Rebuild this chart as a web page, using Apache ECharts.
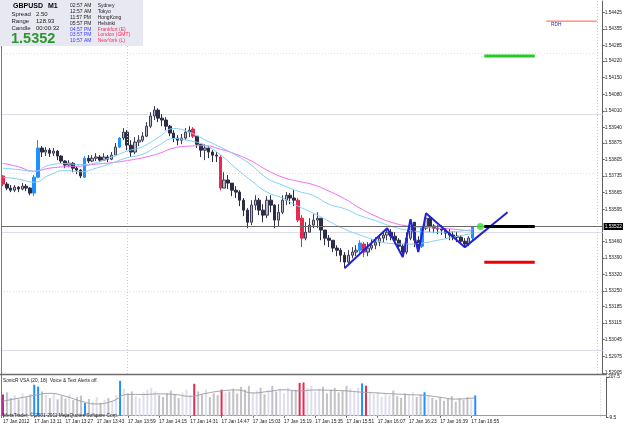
<!DOCTYPE html>
<html>
<head>
<meta charset="utf-8">
<script src="https://cdn.jsdelivr.net/npm/echarts@6/dist/echarts.min.js"></script>
<style>
html, body { margin: 0; padding: 0; background: #fff; }
#chart { width: 625px; height: 429px; }
</style>
</head>
<body>
<div id="chart"></div>
<script>
"use strict";
// GBPUSD M1, 17 Jan 2012 12:55 - 16:57 in 2-minute groups
const opens = [
    1.53735, 1.53701, 1.53684, 1.53675, 1.53688, 1.53680, 1.53692, 1.53684, 1.53663, 1.53730,
    1.53853, 1.53836, 1.53844, 1.53831, 1.53840, 1.53819, 1.53798, 1.53781, 1.53789, 1.53768,
    1.53760, 1.53730, 1.53810, 1.53798, 1.53810, 1.53815, 1.53802, 1.53815, 1.53806, 1.53823,
    1.53857, 1.53895, 1.53920, 1.53865, 1.53836, 1.53878, 1.53886, 1.53903, 1.53945, 1.53988,
    1.54013, 1.53979, 1.53971, 1.53945, 1.53916, 1.53895, 1.53886, 1.53895, 1.53920, 1.53933,
    1.53903, 1.53869, 1.53844, 1.53853, 1.53836, 1.53823, 1.53815, 1.53684, 1.53718, 1.53705,
    1.53675, 1.53667, 1.53633, 1.53591, 1.53540, 1.53612, 1.53633, 1.53591, 1.53570, 1.53633,
    1.53612, 1.53549, 1.53582, 1.53633, 1.53654, 1.53642, 1.53633, 1.53557, 1.53473, 1.53498,
    1.53528, 1.53549, 1.53557, 1.53507, 1.53473, 1.53464, 1.53431, 1.53422, 1.53401, 1.53372,
    1.53401, 1.53414, 1.53422, 1.53448, 1.53414, 1.53431, 1.53443, 1.53456, 1.53473, 1.53486,
    1.53498, 1.53481, 1.53464, 1.53439, 1.53414, 1.53473, 1.53540, 1.53464, 1.53439, 1.53515,
    1.53557, 1.53524, 1.53515, 1.53511, 1.53507, 1.53494, 1.53486, 1.53481, 1.53477, 1.53460,
    1.53448, 1.53473
];
const closes = [
    1.53701, 1.53684, 1.53675, 1.53688, 1.53680, 1.53692, 1.53684, 1.53663, 1.53730, 1.53853,
    1.53836, 1.53844, 1.53831, 1.53840, 1.53819, 1.53798, 1.53781, 1.53789, 1.53768, 1.53760,
    1.53735, 1.53810, 1.53798, 1.53810, 1.53815, 1.53802, 1.53815, 1.53806, 1.53823, 1.53857,
    1.53895, 1.53920, 1.53865, 1.53836, 1.53878, 1.53886, 1.53903, 1.53945, 1.53988, 1.54013,
    1.53979, 1.53971, 1.53945, 1.53916, 1.53895, 1.53886, 1.53895, 1.53920, 1.53928, 1.53903,
    1.53869, 1.53844, 1.53853, 1.53836, 1.53823, 1.53819, 1.53684, 1.53718, 1.53705, 1.53675,
    1.53667, 1.53633, 1.53591, 1.53540, 1.53612, 1.53633, 1.53591, 1.53570, 1.53633, 1.53612,
    1.53549, 1.53582, 1.53633, 1.53654, 1.53642, 1.53633, 1.53549, 1.53473, 1.53498, 1.53528,
    1.53549, 1.53557, 1.53507, 1.53473, 1.53464, 1.53431, 1.53422, 1.53401, 1.53372, 1.53401,
    1.53414, 1.53422, 1.53452, 1.53414, 1.53431, 1.53443, 1.53456, 1.53473, 1.53486, 1.53498,
    1.53481, 1.53464, 1.53439, 1.53414, 1.53473, 1.53540, 1.53464, 1.53439, 1.53515, 1.53557,
    1.53524, 1.53515, 1.53511, 1.53507, 1.53494, 1.53486, 1.53481, 1.53477, 1.53460, 1.53448,
    1.53473, 1.53522
];
const lows = [
    1.53692, 1.53675, 1.53667, 1.53667, 1.53667, 1.53675, 1.53671, 1.53654, 1.53650, 1.53726,
    1.53815, 1.53819, 1.53815, 1.53819, 1.53802, 1.53789, 1.53768, 1.53772, 1.53751, 1.53743,
    1.53726, 1.53726, 1.53789, 1.53794, 1.53798, 1.53794, 1.53798, 1.53794, 1.53802, 1.53819,
    1.53853, 1.53886, 1.53844, 1.53815, 1.53827, 1.53861, 1.53878, 1.53899, 1.53937, 1.53971,
    1.53962, 1.53945, 1.53928, 1.53903, 1.53878, 1.53865, 1.53869, 1.53886, 1.53899, 1.53895,
    1.53853, 1.53815, 1.53802, 1.53810, 1.53794, 1.53794, 1.53675, 1.53684, 1.53680, 1.53650,
    1.53642, 1.53608, 1.53566, 1.53515, 1.53528, 1.53591, 1.53570, 1.53540, 1.53557, 1.53582,
    1.53515, 1.53524, 1.53574, 1.53612, 1.53616, 1.53608, 1.53540, 1.53435, 1.53464, 1.53498,
    1.53515, 1.53515, 1.53464, 1.53443, 1.53435, 1.53414, 1.53397, 1.53372, 1.53346, 1.53363,
    1.53388, 1.53397, 1.53410, 1.53393, 1.53397, 1.53422, 1.53426, 1.53439, 1.53456, 1.53464,
    1.53464, 1.53448, 1.53422, 1.53393, 1.53405, 1.53464, 1.53435, 1.53414, 1.53431, 1.53507,
    1.53498, 1.53494, 1.53490, 1.53486, 1.53473, 1.53464, 1.53464, 1.53456, 1.53448, 1.53435,
    1.53439, 1.53464
];
const highs = [
    1.53739, 1.53709, 1.53697, 1.53697, 1.53692, 1.53705, 1.53701, 1.53688, 1.53739, 1.53886,
    1.53861, 1.53857, 1.53853, 1.53853, 1.53844, 1.53823, 1.53802, 1.53802, 1.53794, 1.53777,
    1.53764, 1.53819, 1.53823, 1.53823, 1.53831, 1.53823, 1.53831, 1.53823, 1.53836, 1.53874,
    1.53899, 1.53937, 1.53928, 1.53886, 1.53899, 1.53907, 1.53920, 1.53962, 1.54004, 1.54030,
    1.54021, 1.53996, 1.53983, 1.53950, 1.53928, 1.53907, 1.53912, 1.53937, 1.53945, 1.53941,
    1.53903, 1.53869, 1.53869, 1.53861, 1.53844, 1.53836, 1.53823, 1.53751, 1.53739, 1.53705,
    1.53692, 1.53675, 1.53642, 1.53599, 1.53633, 1.53654, 1.53642, 1.53616, 1.53650, 1.53654,
    1.53616, 1.53616, 1.53654, 1.53667, 1.53663, 1.53675, 1.53642, 1.53570, 1.53540, 1.53557,
    1.53574, 1.53582, 1.53557, 1.53507, 1.53486, 1.53464, 1.53443, 1.53431, 1.53414, 1.53422,
    1.53435, 1.53443, 1.53464, 1.53456, 1.53456, 1.53469, 1.53477, 1.53490, 1.53503, 1.53515,
    1.53511, 1.53498, 1.53473, 1.53448, 1.53498, 1.53553, 1.53540, 1.53481, 1.53524, 1.53578,
    1.53566, 1.53532, 1.53528, 1.53528, 1.53515, 1.53511, 1.53503, 1.53498, 1.53486, 1.53473,
    1.53481, 1.53524
];
const volumes = [
    114, 125, 95, 110, 88, 120, 100, 115, 166, 156,
    130, 110, 95, 120, 88, 105, 92, 115, 84, 100,
    108, 68, 90, 75, 100, 70, 85, 95, 78, 110,
    187, 145, 120, 130, 105, 95, 125, 140, 150, 130,
    110, 100, 120, 135, 115, 95, 125, 140, 110, 171,
    130, 115, 140, 100, 120, 110, 140, 125, 130, 145,
    120, 155, 140, 160, 125, 135, 150, 115, 140, 160,
    130, 145, 120, 150, 135, 140, 176, 178, 150, 160,
    130, 145, 155, 120, 140, 150, 125, 135, 160, 145,
    130, 150, 173, 161, 130, 115, 125, 100, 120, 110,
    135, 105, 95, 120, 110, 125, 100, 115, 126, 110,
    95, 85, 100, 80, 90, 105, 75, 95, 85, 100,
    90, 109
];
// VSA highlighted bars
const upClimax = [8, 9, 21, 30, 92, 108, 121];
const downClimax = [0, 49, 56, 76, 77, 93];
const churnBars = [0];

// moving averages read every 4 bars
const maIdx = [0, 4, 8, 12, 16, 20, 24, 28, 32, 36, 40, 44, 48, 52, 56, 60,
    64, 68, 72, 76, 80, 84, 88, 92, 96, 100, 104, 108, 112, 116, 120, 121];
const maPink = [
    1.53789, 1.53774, 1.53755, 1.53768, 1.53774, 1.53777, 1.53785, 1.53791, 1.53800, 1.53812,
    1.53829, 1.53853, 1.53861, 1.53863, 1.53848, 1.53827, 1.53798, 1.53760, 1.53730, 1.53713,
    1.53698, 1.53671, 1.53639, 1.53599, 1.53566, 1.53540, 1.53525, 1.53519, 1.53515, 1.53511,
    1.53504, 1.53502
];
const maBlueUpper = [
    1.53768, 1.53762, 1.53755, 1.53781, 1.53787, 1.53783, 1.53791, 1.53815, 1.53840, 1.53859,
    1.53897, 1.53935, 1.53920, 1.53888, 1.53857, 1.53823, 1.53781, 1.53726, 1.53697, 1.53671,
    1.53652, 1.53616, 1.53597, 1.53568, 1.53547, 1.53523, 1.53507, 1.53500, 1.53498, 1.53500,
    1.53507, 1.53509
];
const maBlueLower = [
    1.53730, 1.53722, 1.53709, 1.53739, 1.53758, 1.53753, 1.53768, 1.53789, 1.53812, 1.53827,
    1.53863, 1.53893, 1.53884, 1.53865, 1.53825, 1.53768, 1.53715, 1.53667, 1.53642, 1.53608,
    1.53578, 1.53544, 1.53511, 1.53486, 1.53464, 1.53450, 1.53448, 1.53452, 1.53464, 1.53477,
    1.53490, 1.53494
];
const volMa = [
    78, 94, 109, 120, 104, 78, 63, 78, 114, 114, 117, 114, 104, 120, 133, 138,
    122, 130, 139, 133, 138, 136, 133, 126, 122, 117, 113, 109, 99, 89, 94, 96
];

// zigzag pivots (bar index, price)
const zigIdx = [88, 99, 103, 105, 107, 109, 119, 130];
const zigVal = [1.53346, 1.53515, 1.53393, 1.53553, 1.53414, 1.53578, 1.53435, 1.53582];

// trade levels
const levelSpan = [124, 137];
const tpLevel = 1.54241;
const entryLevel = 1.53522;
const slLevel = 1.53371;
const entryDot = 123;
const rdhSpan = [140, 153];
const rdhLevel = 1.54388;
const bidPrice = 1.53522;

const pinkGuides = [1.54254, 1.53748, 1.53250];
const greyGuides = [1.53996, 1.53499, 1.53001];
const vGuides = [32, 153];

const priceTicks = [1.54425, 1.54355, 1.54285, 1.54220, 1.54150, 1.54080, 1.54010, 1.53940,
    1.53875, 1.53805, 1.53735, 1.53665, 1.53595, 1.53460, 1.53390, 1.53320, 1.53250,
    1.53185, 1.53115, 1.53045, 1.52975, 1.52905];
const timeLabels = ["17 Jan 2012", "17 Jan 13:11", "17 Jan 13:27", "17 Jan 13:43", "17 Jan 13:59",
    "17 Jan 14:15", "17 Jan 14:31", "17 Jan 14:47", "17 Jan 15:03", "17 Jan 15:19", "17 Jan 15:35",
    "17 Jan 15:51", "17 Jan 16:07", "17 Jan 16:23", "17 Jan 16:39", "17 Jan 16:55"];

const clockTimes = ["02:57 AM", "12:57 AM", "11:57 PM", "05:57 PM", "04:57 PM", "03:57 PM", "10:57 AM"];
const clockCities = ["Sydney", "Tokyo", "HongKong", "Helsinki", "Frankfurt (E)", "London (GMT)", "NewYork (L)"];

(() => {
    const chart = echarts.init(document.getElementById("chart"));
    const slotCount = 155;
    const slots = Array.from({ length: slotCount }, (_, i) => String(i));
    const font = "Liberation Sans";
    const small = 4.8;

    const climaxColor = (i) => {
        if (upClimax.includes(i)) {
            return "#1e90ff";
        }
        if (downClimax.includes(i)) {
            return "#e8294f";
        }
        return null;
    };
    const candleData = opens.map((o, i) => {
        const item = { value: [o, closes[i], lows[i], highs[i]] };
        const c = climaxColor(i);
        if (c) {
            item.itemStyle = { color: c, color0: c, borderColor: c, borderColor0: c };
        }
        return item;
    });
    const volumeData = volumes.map((v, i) => {
        let color = closes[i] >= opens[i] ? "#dedeee" : "#c2c2c6";
        if (churnBars.includes(i)) {
            color = "#b0308c";
        }
        else if (climaxColor(i)) {
            color = climaxColor(i);
        }
        return { value: v, itemStyle: { color } };
    });
    const pairs = (idx, vals) => idx.map((k, j) => [k, vals[j]]);
    const flat = (span, v) => span.map((k) => [k, v]);
    const isLabelSlot = (index) => index % 8 === 0 && index / 8 < timeLabels.length;

    const hGuides = [
        ...pinkGuides.map((v) => ({ yAxis: v, lineStyle: { color: "#f6d8cc", type: [1, 2], width: 1 } })),
        ...greyGuides.map((v) => ({ yAxis: v, lineStyle: { color: "#dcdcea", type: "solid", width: 1 } }))
    ];
    const bidLine = [{
        yAxis: bidPrice,
        lineStyle: { color: "#6a6a6a", type: "solid", width: 1 },
        label: {
            show: true, position: "end", formatter: bidPrice.toFixed(5), distance: 1,
            color: "#fff", backgroundColor: "#000", fontSize: small, fontFamily: font, padding: [1, 1, 1, 1]
        }
    }];
    const vLines = vGuides.map((k) => ({ xAxis: k, lineStyle: { color: "#ccccdc", type: [1, 2], width: 1 } }));
    // precision matters here: markLine rounds its values to 2 decimals by default
    const marker = (data) => ({ symbol: "none", silent: true, animation: false, precision: 5, label: { show: false }, data });

    const option = {
        animation: false,
        backgroundColor: "#ffffff",
        grid: [
            { left: 1, top: 1, width: 605, height: 373 },
            { left: 1, top: 377, width: 605, height: 40.5 }
        ],
        xAxis: [
            {
                gridIndex: 0, type: "category", data: slots, boundaryGap: true,
                axisLine: { show: false }, axisTick: { show: false }, axisLabel: { show: false }, splitLine: { show: false }
            },
            {
                gridIndex: 1, type: "category", data: slots, boundaryGap: true,
                axisLine: { show: true, lineStyle: { color: "#9a9a9a" } },
                axisTick: { show: true, alignWithLabel: true, interval: isLabelSlot, length: 2, lineStyle: { color: "#606060" } },
                axisLabel: {
                    interval: isLabelSlot, align: "left", margin: 2, fontSize: small, fontFamily: font, color: "#202020",
                    formatter: (value, index) => (isLabelSlot(index) ? timeLabels[index / 8] : "")
                },
                splitLine: { show: false }
            }
        ],
        yAxis: [
            {
                gridIndex: 0, type: "value", position: "right", min: 1.52900, max: 1.54473,
                axisLine: { show: true, lineStyle: { color: "#606060" } },
                axisTick: { show: true, length: 2, customValues: priceTicks, lineStyle: { color: "#606060" } },
                axisLabel: {
                    customValues: priceTicks, margin: 2, fontSize: small, fontFamily: font, color: "#202020",
                    formatter: (v) => v.toFixed(5)
                },
                splitLine: { show: false }
            },
            {
                gridIndex: 1, type: "value", position: "right", min: -9.5, max: 207.5,
                axisLine: { show: true, lineStyle: { color: "#606060" } },
                axisTick: { show: true, length: 2, customValues: [207.5, -9.5], lineStyle: { color: "#606060" } },
                axisLabel: {
                    customValues: [207.5, -9.5], margin: 2, fontSize: small, fontFamily: font, color: "#202020",
                    formatter: (v) => String(v)
                },
                splitLine: { show: false }
            }
        ],
        series: [
            {
                type: "candlestick", xAxisIndex: 0, yAxisIndex: 0, barWidth: 3, data: candleData,
                itemStyle: { color: "#b8b8c8", color0: "#2c2c44", borderColor: "#3c3c54", borderColor0: "#2c2c44", borderWidth: 1 },
                z: 3
            },
            {
                type: "line", xAxisIndex: 0, yAxisIndex: 0, data: pairs(maIdx, maPink), smooth: true, showSymbol: false,
                lineStyle: { color: "#f06cf0", width: 1 }, z: 4,
                markLine: Object.assign(marker(hGuides), { z: 1 })
            },
            {
                type: "line", xAxisIndex: 0, yAxisIndex: 0, data: pairs(maIdx, maBlueUpper), smooth: true, showSymbol: false,
                lineStyle: { color: "#80d0f8", width: 1 }, z: 4,
                markLine: marker(vLines)
            },
            {
                type: "line", xAxisIndex: 0, yAxisIndex: 0, data: pairs(maIdx, maBlueLower), smooth: true, showSymbol: false,
                lineStyle: { color: "#80d0f8", width: 1 }, z: 4,
                markLine: marker(bidLine)
            },
            {
                type: "line", xAxisIndex: 0, yAxisIndex: 0, data: pairs(zigIdx, zigVal), showSymbol: false,
                lineStyle: { color: "#2222d8", width: 2 }, z: 6
            },
            {
                type: "line", xAxisIndex: 0, yAxisIndex: 0, data: flat(levelSpan, tpLevel), showSymbol: false,
                lineStyle: { color: "#22cc22", width: 3 }, z: 6
            },
            {
                type: "line", xAxisIndex: 0, yAxisIndex: 0, data: flat(levelSpan, entryLevel), showSymbol: false,
                lineStyle: { color: "#000000", width: 3 }, z: 6
            },
            {
                type: "line", xAxisIndex: 0, yAxisIndex: 0, data: flat(levelSpan, slLevel), showSymbol: false,
                lineStyle: { color: "#ee0000", width: 3 }, z: 6
            },
            {
                type: "scatter", xAxisIndex: 0, yAxisIndex: 0, data: [[entryDot, entryLevel]], symbolSize: 7,
                itemStyle: { color: "#33dd33" }, z: 7
            },
            {
                type: "line", xAxisIndex: 0, yAxisIndex: 0, data: flat(rdhSpan, rdhLevel), showSymbol: false,
                lineStyle: { color: "#ff5a30", width: 1 }, z: 6
            },
            {
                type: "bar", xAxisIndex: 1, yAxisIndex: 1, data: volumeData, barWidth: 2,
                markLine: marker([{ xAxis: vGuides[1], lineStyle: { color: "#ccccdc", type: [1, 2], width: 1 } }])
            },
            {
                type: "line", xAxisIndex: 1, yAxisIndex: 1, data: pairs(maIdx, volMa), smooth: true, showSymbol: false,
                lineStyle: { color: "#a0a0a8", width: 1 }, z: 4
            }
        ],
        graphic: [
            { type: "line", shape: { x1: 1.5, y1: 0, x2: 1.5, y2: 418 }, style: { stroke: "#7a7a7a", lineWidth: 1 }, z: 10 },
            { type: "line", shape: { x1: 0, y1: 374.5, x2: 607, y2: 374.5 }, style: { stroke: "#6e6e6e", lineWidth: 1.5 }, z: 10 },
            { type: "rect", shape: { x: 0, y: 0, width: 143, height: 46 }, style: { fill: "#e8e8f2" }, z: 20 },
            { type: "text", x: 13, y: 6, z: 21, style: { text: "GBPUSD", font: `bold 7px "${font}"`, fill: "#000", textVerticalAlign: "middle" } },
            { type: "text", x: 48, y: 6, z: 21, style: { text: "M1", font: `bold 7px "${font}"`, fill: "#000", textVerticalAlign: "middle" } },
            { type: "text", x: 11.5, y: 14.3, z: 21, style: { text: "Spread", font: `6px "${font}"`, fill: "#202020", textVerticalAlign: "middle" } },
            { type: "text", x: 36, y: 14.3, z: 21, style: { text: "2.50", font: `6px "${font}"`, fill: "#202020", textVerticalAlign: "middle" } },
            { type: "text", x: 11.5, y: 21, z: 21, style: { text: "Range", font: `6px "${font}"`, fill: "#202020", textVerticalAlign: "middle" } },
            { type: "text", x: 36, y: 21, z: 21, style: { text: "128.93", font: `6px "${font}"`, fill: "#202020", textVerticalAlign: "middle" } },
            { type: "text", x: 11.5, y: 28.3, z: 21, style: { text: "Candle", font: `6px "${font}"`, fill: "#202020", textVerticalAlign: "middle" } },
            { type: "text", x: 36, y: 28.3, z: 21, style: { text: "00:00:32", font: `6px "${font}"`, fill: "#202020", textVerticalAlign: "middle" } },
            { type: "text", x: 11, y: 38.7, z: 21, style: { text: "1.5352", font: `bold 14.5px "${font}"`, fill: "#2e962e", textVerticalAlign: "middle" } },
            ...clockTimes.map((t, i) => ({
                type: "text", x: 70, y: [5.7, 11.7, 17.7, 23.3, 29.3, 35, 41][i], z: 21,
                style: { text: t, font: `5px "${font}"`, fill: i < 4 ? "#202020" : "#3a3aff", textVerticalAlign: "middle" }
            })),
            ...clockCities.map((t, i) => ({
                type: "text", x: 97.7, y: [5.7, 11.7, 17.7, 23.3, 29.3, 35, 41][i], z: 21,
                style: { text: t, font: `5px "${font}"`, fill: i < 4 ? "#202020" : "#ff2a5a", textVerticalAlign: "middle" }
            })),
            { type: "text", x: 551, y: 24.6, z: 21, style: { text: "RDH", font: `${small}px "${font}"`, fill: "#3030a0", textVerticalAlign: "middle" } },
            { type: "text", x: 3, y: 380.7, z: 21, style: { text: "SonicR VSA (20, 18)  Voice & Text Alerts off.", font: `${small}px "${font}"`, fill: "#202020", textVerticalAlign: "middle" } },
            { type: "text", x: 3, y: 415.8, z: 21, style: { text: "MetaTrader, \u00a9 2001-2011 MetaQuotes Software Corp.", font: `${small}px "${font}"`, fill: "#202020", textVerticalAlign: "middle" } }
        ]
    };
    chart.setOption(option);
})();
</script>
</body>
</html>
